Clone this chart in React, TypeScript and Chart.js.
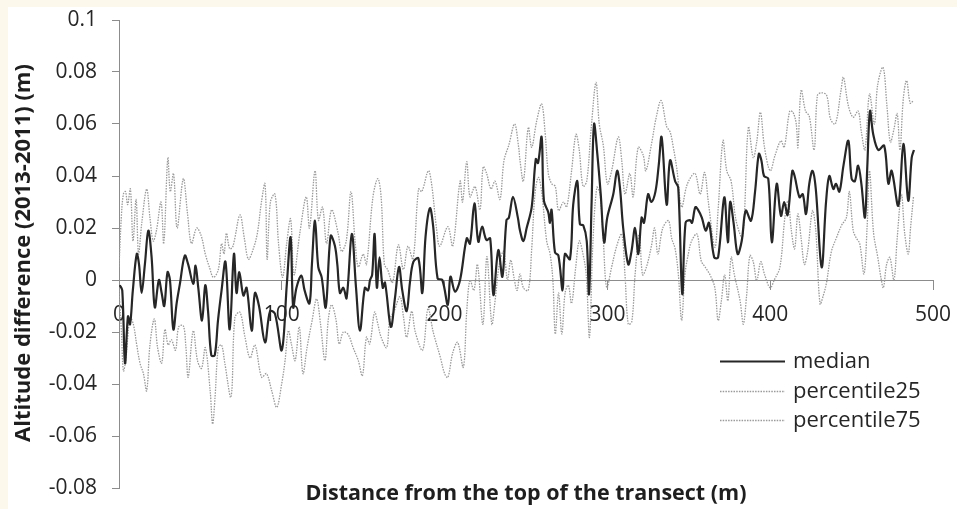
import React, { useEffect, useRef } from "react";
import { Chart, registerables } from "chart.js";

Chart.register(...registerables);

const X_TITLE = "Distance from the top of the transect (m)";
const Y_TITLE = "Altitude difference (2013-2011) (m)";
const SERIES_NAMES = ["median", "percentile25", "percentile75"];
const X_TICKS = [0, 100, 200, 300, 400, 500];
const Y_TICKS = [-0.08, -0.06, -0.04, -0.02, 0, 0.02, 0.04, 0.06, 0.08, 0.1];

const medianD = [0.5,2,3.7,5.5,6.8,8.5,10.9,12.3,13.9,15.9,18,20,22,24.5,26.2,27.8,29.8,31.3,33.4,35.4,37.4,40.4,42.5,45.6,47,48.7,51,53,54.7,56.7,58.8,60.8,63,65.4,68,70.6,72.2,73.9,76.4,78.4,81.5,83.5,86,89.7,92.8,95.8,100,103.1,105.4,107,109,112,114,117,118.5,120.4,122.4,124.5,127,130,132.6,134.1,135.7,137.8,139.8,143,145.6,148,151,153,154.2,155.5,157,158.4,160,162,163.4,167,169.5,172,174,176.7,178.7,180.8,183.9,186.3,188.3,191,193,195.7,198.6,202,203.6,206.4,209.5,213.6,215.6,218.3,220.7,223,225.7,228,230,233,235.5,238,239.5,242,245,246.3,248.4,250.4,253.5,256,257.4,259.6,261,263.7,264.7,265.7,267.8,269.9,272.5,273.9,277,279,281.5,283.1,285.2,287.3,288.7,290.3,291.8,293.8,295.9,298,299.9,303.6,306,307.7,309.7,312.8,314.8,317,319,321,322.5,325,327,329.5,331.5,333.3,336.4,338.5,341.6,343.5,346,348,350.7,352,354,355.7,358,360.4,362.4,365.6,368,371.8,374,375.4,377.5,380,382.5,385,388.2,390.7,393,394.6,396.2,398.8,401,404,406.6,408.6,410.7,413.6,415,418,420,422,424,426,428,431.6,434.3,436.3,438.8,440.4,442.5,445,448,450,452,454,456,458.2,459.6,461.3,463.3,466.4,470,472.6,474.6,478.7,481.8,484.8,486.9,488.3];
const medianV = [-0.002,-0.004,-0.032,-0.014,-0.017,-0.004,0.010,0.006,-0.005,0.006,0.019,0.009,-0.0105,0,-0.005,-0.010,0.003,0,-0.019,-0.009,-0.0015,0.0094,0.006,-0.0015,0.0055,-0.003,-0.0156,-0.002,-0.012,-0.029,-0.029,-0.0156,-0.004,0.007,-0.019,0.010,-0.005,0.003,-0.006,-0.003,-0.0195,-0.005,-0.010,-0.024,-0.012,-0.013,-0.027,-0.0015,0.0164,-0.0105,-0.003,0.0017,-0.004,-0.009,0.006,0.0228,0.005,0.001,-0.0105,0.017,0.0132,0.006,-0.005,-0.003,-0.007,0.0177,-0.003,-0.0195,-0.003,-0.004,0,0.002,0.0177,-0.003,0.0087,-0.003,-0.001,-0.018,-0.007,0.005,-0.004,-0.012,-0.001,0.007,0.0083,-0.005,0.0167,0.0276,0.0205,0.0006,0,-0.0096,0.0013,-0.0045,0,0.016,0.014,0.0295,0.0147,0.0205,0.0154,0.016,-0.0058,0.0115,0.0013,0.023,0.024,0.032,0.024,0.019,0.015,0.020,0.028,0.0465,0.045,0.055,0.0305,0.026,0.022,0.027,0.0106,0.0094,-0.004,0.010,0.008,0.029,0.038,0.0215,0.021,0.015,-0.0054,0.03,0.060,0.0485,0.033,0.0145,0.024,0.033,0.042,0.0356,0.020,0.006,0.011,0.020,0.010,0.024,0.022,0.033,0.030,0.034,0.044,0.055,0.029,0.046,0.038,0.0356,-0.0054,0.022,0.023,0.022,0.028,0.027,0.024,0.019,0.022,0.0087,0.0087,0.0318,0.0145,0.030,0.022,0.010,0.015,0.0267,0.0228,0.034,0.0485,0.046,0.040,0.039,0.0145,0.037,0.0247,0.030,0.025,0.042,0.040,0.0318,0.033,0.0254,0.037,0.042,0.035,0.0049,0.030,0.040,0.035,0.037,0.034,0.044,0.0536,0.039,0.038,0.044,0.037,0.024,0.043,0.065,0.056,0.050,0.0517,0.037,0.042,0.0286,0.0523,0.0305,0.047,0.050];

const p25D = [0,1.5,2.7,4.1,6.8,8.8,10.9,12.9,15,17,19,21.7,23.7,26.2,28.2,30.2,32.2,34.7,36.7,39.5,41,42.5,45.6,48.2,50.7,53,56,57.5,59,61,63,65,68.8,71.2,74.3,77.4,80.5,83.5,87.6,90.6,93.8,96.9,99.9,102,104,106,108.2,110.7,113,115.5,118.5,121.4,123.8,126.5,128.6,130.6,133.2,135.3,137.8,140.8,143.8,147,149.5,152,154,157,159,161,164.4,166.4,169,172.6,174.7,176.7,179.8,182,186.5,189.8,193,197.5,200,202,205,208,211.5,213.6,215.6,218,220.2,223.5,226,229,231,233.6,236.3,238.6,240.6,242.6,244.5,246.3,248.4,251.4,253.5,255.5,257.6,259.6,262.7,264.8,266.5,268,270,272,274,276,278,280.5,282.7,285,287,289,291,293.5,295.5,297.5,299.6,302.6,305.7,308.8,310.8,312.8,315,317,319.6,321.6,324,327,329,331,334,337.5,339.5,341.6,343.6,345.6,347.6,349.7,351.7,355,357.6,360,363,366,368,370,372,374,376,378,381.5,383.5,385.5,387.5,389.6,391.7,394.2,396.6,400,402.5,406,409,411,413,415,417,419,421,423,426,428,430.6,432.6,434.6,437.6,440.8,443.8,446.8,448.6,451,453,455,457.6,459.5,461,463.5,466,468,469.5,471.5,473.5,476,478,480.6,482.6,484.8,486.2,488];
const p25V = [-0.004,-0.020,-0.035,-0.031,-0.0144,-0.017,-0.025,-0.032,-0.036,-0.0426,-0.025,-0.015,-0.026,-0.032,-0.019,-0.025,-0.023,-0.027,-0.018,-0.0176,-0.025,-0.0374,-0.0195,-0.031,-0.034,-0.026,-0.0426,-0.0554,-0.045,-0.026,-0.025,-0.032,-0.045,-0.0144,-0.0124,-0.022,-0.030,-0.025,-0.0374,-0.036,-0.0426,-0.049,-0.040,-0.031,-0.0195,-0.025,-0.031,-0.018,-0.036,-0.026,-0.016,-0.0073,-0.017,-0.031,-0.015,-0.0095,-0.015,-0.0246,-0.020,-0.021,-0.026,-0.031,-0.0368,-0.022,-0.0246,-0.0124,-0.017,-0.022,-0.026,-0.015,-0.012,-0.0064,-0.014,-0.022,-0.012,-0.020,-0.027,-0.011,-0.020,-0.030,-0.036,-0.0375,-0.028,-0.024,-0.0336,-0.012,0.0,-0.004,0.006,-0.017,0.009,-0.017,-0.008,0.006,0.011,0.0,0.0077,0.001,-0.004,0.0023,-0.003,-0.004,0.012,0.033,0.0395,0.034,0.015,0.010,0.0,-0.0208,-0.005,-0.0208,-0.005,-0.002,-0.009,0.0047,0.015,0.010,0.002,-0.022,0.013,0.0356,0.033,0.015,-0.003,0.005,0.013,0.0177,0.002,-0.017,-0.016,0.002,0.0177,0.002,0.005,0.013,0.020,0.010,0.020,0.0228,0.016,0.012,0.002,-0.0156,0.002,0.010,0.015,0.0177,0.0074,0.005,0.002,-0.003,-0.0156,-0.008,0.002,-0.008,0.0087,0.002,-0.008,-0.017,-0.006,0.0094,0.007,-0.0003,0.007,0.002,-0.003,0.0,0.005,0.024,0.0305,0.019,0.012,0.0254,0.016,0.006,0.011,0.0267,0.019,-0.0092,-0.006,-0.001,0.011,0.0164,0.021,0.024,0.034,0.019,0.016,0.014,0.0023,0.020,0.042,0.018,0.009,0.001,-0.003,0.006,0.0087,0.0,0.016,0.033,0.018,0.010,0.020,0.032];

const p75D = [0,1.5,2.7,4,5.3,7,8.6,10.5,12,14,17,19,21,23,25.8,27.5,30,31.5,33.5,35.7,39.5,42,44.5,47.7,50.5,53,55.5,58,61,63,64.5,66,68,70,74.3,77,79.5,82.5,85,87.5,89.7,91,93,95.8,98,100.5,103,105.4,107.5,111,115,117,120.4,122.5,125,127.5,130.6,134.6,136.7,139.6,142.5,145,147,150,152,156,159,161,163,165,168,171.6,174.7,177.5,180.6,184,186,190,192,195,197,202,205,209.5,211,213.6,215.6,218.7,221.7,223.7,225.8,228.5,231,234,236.5,239.5,243,245.5,246.3,248.4,251.4,253.5,256.5,259.6,261.7,263.7,265.8,268,270,273,275,278,280.7,282.7,285,287.3,290,293,295,297.5,300,302.6,306.7,308.8,310.8,313.8,315.8,318.9,322,323.6,327,330,333,336.4,338.5,340.5,342.6,345.6,348.6,351.7,354,357,359.7,362,366,368,371,373.3,376,379,383,386.6,389.6,391.7,394,396.5,400,403,406.6,408.6,412,414,416,417,419,421.7,424,427,429,431.6,434.7,437,440,443.5,445,448,451,454,456,458.2,461,464,466,469.3,471.7,473.8,476,478,479.7,481.8,483.8,486,488];
const p75V = [0.005,0.025,0.033,0.034,0.029,0.035,0.015,0.031,0.010,0.022,0.035,0.024,0.015,0.019,0.030,0.014,0.047,0.034,0.041,0.020,0.039,0.026,0.014,0.020,0.017,0.010,0.005,0.001,0.004,0.014,0.010,0.018,0.012,0.013,0.025,0.016,0.008,0.012,0.018,0.030,0.037,0.008,0.030,0.033,0.014,0.001,0.014,0.0235,0.002,0.0177,0.032,0.020,0.042,0.023,0.028,0.014,0.027,0.018,0.011,0.015,0.034,0.015,0.005,0.010,0.006,0.032,0.039,0.032,0.006,0.004,-0.001,0.0135,0.004,0.013,0.008,0.035,0.034,0.042,0.037,0.020,0.013,0.0205,0.013,0.038,0.030,0.0455,0.032,0.036,0.027,0.0436,0.041,0.035,0.038,0.031,0.046,0.052,0.060,0.051,0.046,0.038,0.0587,0.051,0.061,0.0677,0.057,0.041,0.037,0.036,0.0267,0.030,0.028,0.042,0.056,0.050,0.036,0.038,0.058,0.076,0.060,0.0517,0.037,0.042,0.055,0.046,0.033,0.041,0.032,0.051,0.048,0.042,0.052,0.0626,0.069,0.059,0.057,0.051,0.043,0.028,0.036,0.040,0.041,0.033,0.0414,0.030,0.0126,0.027,0.0536,0.042,0.038,0.023,0.0164,0.0587,0.047,0.053,0.0645,0.051,0.042,0.048,0.0536,0.051,0.065,0.0645,0.060,0.051,0.073,0.065,0.063,0.050,0.071,0.072,0.071,0.062,0.060,0.073,0.078,0.067,0.0626,0.065,0.057,0.050,0.0715,0.060,0.075,0.0818,0.067,0.053,0.058,0.064,0.050,0.070,0.0767,0.068,0.069];

const FONT = "'Open Sans', Lato, sans-serif";

function pts(d: number[], v: number[]) {
  return d.map((x, i) => ({ x, y: v[i] }));
}

const overlay = {
  id: "overlay",
  afterDraw(chart: any) {
    const { ctx, chartArea } = chart;
    ctx.save();
    ctx.fillStyle = "#1e1e1e";
    ctx.textAlign = "center";
    ctx.textBaseline = "middle";
    ctx.font = `bold 22px ${FONT}`;
    ctx.save();
    ctx.translate(16, 246);
    ctx.rotate(-Math.PI / 2);
    ctx.fillText(Y_TITLE, 0, 0);
    ctx.restore();
    ctx.font = `bold 21.5px ${FONT}`;
    ctx.fillText(X_TITLE, (chartArea.left + chartArea.right) / 2, 487);
    const ds = chart.data.datasets;
    const rows = [354.5, 384.5, 413.5];
    ctx.font = `22px ${FONT}`;
    ctx.textAlign = "left";
    ds.forEach((d: any, i: number) => {
      const y = rows[i];
      ctx.save();
      ctx.strokeStyle = d.borderColor;
      ctx.lineWidth = d.borderWidth;
      ctx.setLineDash(d.borderDash || []);
      ctx.beginPath();
      ctx.moveTo(712, y);
      ctx.lineTo(777, y);
      ctx.stroke();
      ctx.restore();
      ctx.fillStyle = "#262626";
      ctx.fillText(d.label, 785, y);
    });
    ctx.restore();
  },
};

export default function App() {
  const ref = useRef<HTMLCanvasElement | null>(null);
  useEffect(() => {
    if (!ref.current) return;
    const chart = new Chart(ref.current, {
      type: "line",
      data: {
        datasets: [
          {
            label: SERIES_NAMES[0],
            data: pts(medianD, medianV),
            borderColor: "#262626",
            borderWidth: 2.2,
            pointRadius: 0,
            tension: 0.35,
            order: 0,
          },
          {
            label: SERIES_NAMES[1],
            data: pts(p25D, p25V),
            borderColor: "#9a9a9a",
            borderWidth: 1.3,
            borderDash: [1.5, 1.2],
            pointRadius: 0,
            tension: 0.35,
            order: 1,
          },
          {
            label: SERIES_NAMES[2],
            data: pts(p75D, p75V),
            borderColor: "#9a9a9a",
            borderWidth: 1.3,
            borderDash: [1.5, 1.2],
            pointRadius: 0,
            tension: 0.35,
            order: 2,
          },
        ],
      },
      options: {
        animation: false,
        responsive: false,
        layout: { padding: { left: 0, top: 13, right: 24, bottom: 21 } },
        plugins: { legend: { display: false }, tooltip: { enabled: false } },
        scales: {
          x: {
            type: "linear",
            min: 0,
            max: 500,
            position: { y: 0 } as any,
            afterBuildTicks: (s: any) => {
              s.ticks = X_TICKS.map((v) => ({ value: v }));
            },
            afterFit: (s: any) => {
              s.paddingLeft = 0;
              s.paddingRight = 0;
            },
            ticks: {
              font: { family: FONT, size: 21 },
              color: "#262626",
              padding: 13,
              maxRotation: 0,
              autoSkip: false,
            },
            grid: { drawOnChartArea: false, tickLength: 9, color: "#8c8c8c", lineWidth: 1 },
            border: { color: "#8c8c8c", width: 1 },
          },
          y: {
            type: "linear",
            min: -0.08,
            max: 0.1,
            afterBuildTicks: (s: any) => {
              s.ticks = Y_TICKS.map((v) => ({ value: v }));
            },
            afterFit: (s: any) => {
              s.width = 111;
              s.paddingTop = 0;
              s.paddingBottom = 0;
            },
            ticks: {
              font: { family: FONT, size: 21 },
              color: "#262626",
              padding: 15,
              callback: (v: any) => {
                const n = parseFloat(Number(v).toFixed(2));
                return n === 0 ? "0" : String(n);
              },
            },
            grid: { drawOnChartArea: false, tickLength: 7, color: "#8c8c8c", lineWidth: 1 },
            border: { color: "#8c8c8c", width: 1 },
          },
        },
      },
      plugins: [overlay],
    });
    return () => chart.destroy();
  }, []);
  return (
    <div style={{ position: "fixed", inset: 0, background: "#fdf8ec" }}>
      <div style={{ position: "absolute", left: 8, top: 7, width: 949, height: 502, background: "#ffffff" }}>
        <canvas ref={ref} width={949} height={502} style={{ display: "block" }} />
      </div>
    </div>
  );
}
